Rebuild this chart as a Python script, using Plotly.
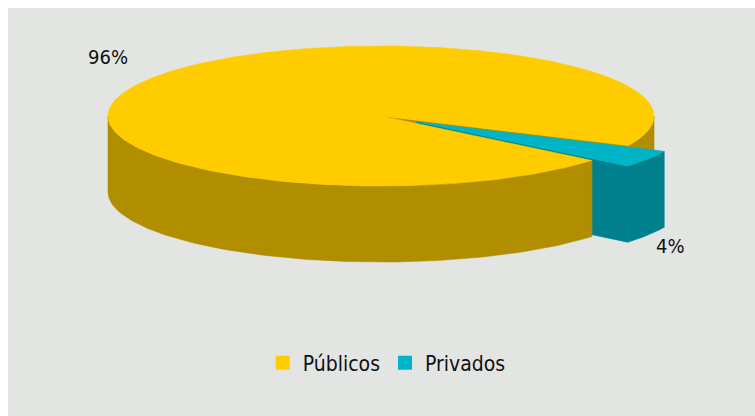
import numpy as np
import plotly.graph_objects as go

# ---- data ----
categories = ["Públicos", "Privados"]
values = [96, 4]
top_colors = ["#FFCC00", "#00B4C8"]
side_colors = ["#B08E00", "#007F8C"]
explode = [0.0, 0.155]

# ---- geometry / style (pixel space) ----
W, H = 755, 416
ML, MT = 8, 8
CX, CY, RX, RY, DEPTH = 381.0, 116.0, 273.0, 70.0, 76.0
START = 39.4  # degrees, clockwise on screen from 3 o'clock
BG = "#E3E5E3"
FONT = "DejaVu Sans Condensed"

total = float(sum(values))
angles = []
a = START
for v in values:
    b = a + 360.0 * v / total
    angles.append((a, b))
    a = b


def pt(theta_deg, off, z=0.0):
    t = np.radians(theta_deg)
    return (CX + off[0] + RX * np.cos(t), CY + off[1] + RY * np.sin(t) + z)


def arc(a0, a1, off, z=0.0, n=120):
    t = np.radians(np.linspace(a0, a1, n))
    return (CX + off[0] + RX * np.cos(t), CY + off[1] + RY * np.sin(t) + z)


offsets = []
for (a0, a1), e in zip(angles, explode):
    m = np.radians((a0 + a1) / 2)
    offsets.append((e * RX * np.cos(m), e * RY * np.sin(m)))

fig = go.Figure()


def poly(xs, ys, color):
    xs = list(xs) + [xs[0]]
    ys = list(ys) + [ys[0]]
    fig.add_trace(go.Scatter(x=xs, y=ys, mode="lines", fill="toself",
                             fillcolor=color, line=dict(color=color, width=0.6),
                             hoverinfo="skip", showlegend=False))


# 1) visible radial cut faces
for i, ((a0, a1), off) in enumerate(zip(angles, offsets)):
    for ang, vis in ((a0, np.cos(np.radians(a0)) < 0), (a1, np.cos(np.radians(a1)) > 0)):
        if vis and values[i] < total:
            cx, cy = CX + off[0], CY + off[1]
            rx_, ry_ = pt(ang, off)
            poly([cx, rx_, rx_, cx], [cy, ry_, ry_ + DEPTH, cy + DEPTH], side_colors[i])

# 2) outer sides and tops, slice by slice
for i, ((a0, a1), off) in enumerate(zip(angles, offsets)):
    for k in range(-1, 3):
        lo, hi = max(a0, 360 * k), min(a1, 360 * k + 180)
        if hi > lo:
            xt, yt = arc(lo, hi, off)
            xb, yb = arc(hi, lo, off, z=DEPTH)
            poly(np.concatenate([xt, xb]), np.concatenate([yt, yb]), side_colors[i])
    xt, yt = arc(a0, a1, off, n=400)
    poly(np.concatenate([[CX + off[0]], xt]), np.concatenate([[CY + off[1]], yt]), top_colors[i])

# legend entries
for name, c in zip(categories, top_colors):
    fig.add_trace(go.Scatter(x=[None], y=[None], mode="markers", name=name,
                             marker=dict(symbol="square", size=14, color=c)))

# percentage labels
label_pos = [(108, 57), (670, 246)]
for v, (lx, ly) in zip(values, label_pos):
    fig.add_annotation(x=lx, y=ly, text=f"{round(100 * v / total)}%", showarrow=False,
                       font=dict(family=FONT, size=20, color="#111111"),
                       xanchor="center", yanchor="middle")

fig.update_layout(
    width=W, height=H,
    margin=dict(l=ML, t=MT, r=0, b=0),
    paper_bgcolor="white", plot_bgcolor=BG,
    xaxis=dict(range=[ML, W], visible=False, fixedrange=True),
    yaxis=dict(range=[H, MT], visible=False, fixedrange=True),
    showlegend=True,
    legend=dict(orientation="h", x=0.507, xanchor="center", y=(H - 363) / (H - MT),
                yanchor="middle", bgcolor="rgba(0,0,0,0)",
                font=dict(family=FONT, size=21, color="#111111"),
                itemclick=False, itemdoubleclick=False),
    font=dict(family=FONT),
)

fig.write_html("out.html")
